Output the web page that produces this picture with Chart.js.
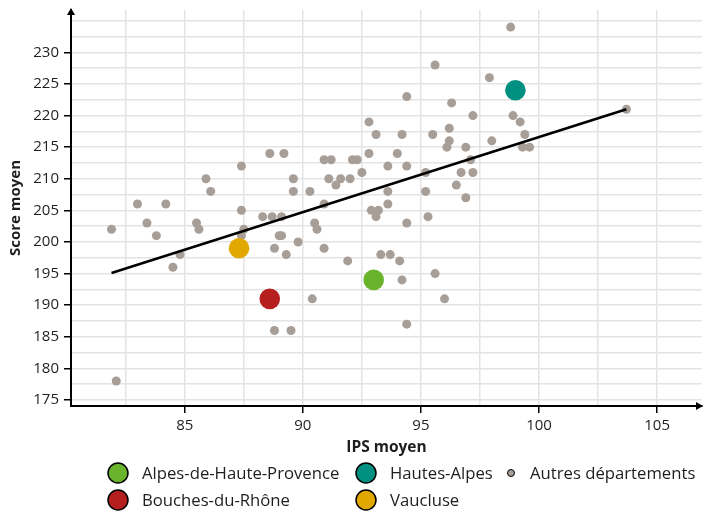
<!DOCTYPE html>
<html>
<head>
<meta charset="utf-8">
<script src="https://cdn.jsdelivr.net/npm/chart.js@4.4.1/dist/chart.umd.min.js"></script>
<style>
html,body{margin:0;padding:0;background:#fff}
</style>
</head>
<body>
<canvas id="chart" width="703" height="512"></canvas>
<script>
// autres départements : IPS moyen / score moyen
const ipsAutres = [81.9, 82.1, 83.0, 83.4, 83.8, 84.2, 84.5, 84.8, 85.5, 85.6, 85.9, 86.1,
  87.4, 87.4, 87.5, 87.4, 88.3, 88.7, 89.1, 88.8, 89.0, 89.1, 88.8, 89.5, 88.6, 89.2,
  89.6, 89.6, 90.3, 90.9, 91.2, 91.1, 91.6, 91.4, 92.0, 92.1, 92.3, 92.5, 92.8, 92.8,
  93.1, 93.6, 93.6, 94.0, 94.2, 94.4, 94.4, 95.2, 95.2, 95.5, 95.6, 96.1, 96.2, 96.2,
  96.3, 96.5, 96.7, 96.9, 96.9, 97.1, 97.2, 97.2, 97.9, 98.0, 98.8, 98.9, 99.2, 99.4,
  99.3, 99.6, 103.7, 90.9, 90.5, 90.6, 89.8, 89.3, 90.9, 91.9, 92.9, 93.2, 93.1, 93.6,
  94.4, 95.3, 93.3, 93.7, 94.1, 94.2, 95.6, 96.0, 94.4, 90.4];
const scoreAutres = [202, 178, 206, 203, 201, 206, 196, 198, 203, 202, 210, 208,
  205, 212, 202, 201, 204, 204, 204, 199, 201, 201, 186, 186, 214, 214,
  210, 208, 208, 213, 213, 210, 210, 209, 210, 213, 213, 211, 214, 219,
  217, 212, 208, 214, 217, 223, 212, 211, 208, 217, 228, 215, 216, 218,
  222, 209, 211, 215, 207, 213, 220, 211, 226, 216, 234, 220, 219, 217,
  215, 215, 221, 206, 203, 202, 200, 198, 199, 197, 205, 205, 204, 206,
  203, 204, 198, 198, 197, 194, 195, 191, 187, 191];

// départements mis en avant
const deptNames = ['Alpes-de-Haute-Provence', 'Bouches-du-Rhône', 'Hautes-Alpes', 'Vaucluse'];
const deptIps = [93.0, 88.6, 99.0, 87.3];
const deptScore = [194, 191, 224, 199];
const autresLabel = 'Autres départements';

// droite de régression
const trendIps = [81.9, 103.7];
const trendScore = [195.1, 221.0];

// graduations
const xTicks = [85, 90, 95, 100, 105];
const yTicks = [175, 180, 185, 190, 195, 200, 205, 210, 215, 220, 225, 230];

const deptColors = ['#6ab42d', '#b5201f', '#009081', '#e1a800'];
const grey = '#a89e98';
const FONT = "'Open Sans', sans-serif";

Chart.defaults.font.family = FONT;
Chart.defaults.color = '#1e1e1e';

const xMin = 80.185, xMax = 106.9, yMin = 174.05, yMax = 236.7;

function gridTicks(major, min, max) {
  let out = [];
  for (let v = major[0] - 10; v <= max; v += 2.5) {
    if (v >= min) out.push({value: v});
  }
  return out;
}
function isMajor(v, major) {
  return major.some(m => Math.abs(m - v) < 1e-6);
}

const arrowsAndLegend = {
  id: 'arrowsAndLegend',
  afterDraw(chart) {
    const c = chart.ctx, a = chart.chartArea;
    c.save();
    c.fillStyle = '#000';
    // flèche verticale
    c.beginPath();
    c.moveTo(a.left, a.top - 2);
    c.lineTo(a.left - 4, a.top + 5);
    c.lineTo(a.left + 4, a.top + 5);
    c.closePath();
    c.fill();
    // flèche horizontale
    c.beginPath();
    c.moveTo(a.right + 1, a.bottom);
    c.lineTo(a.right - 6, a.bottom - 4);
    c.lineTo(a.right - 6, a.bottom + 4);
    c.closePath();
    c.fill();

    // légende
    c.font = "16.7px " + FONT;
    c.textBaseline = 'middle';
    const colX = [118, 366, 511];
    const rowY = [473, 500];
    deptNames.forEach((name, i) => {
      const cx = colX[Math.floor(i / 2)], cy = rowY[i % 2];
      c.beginPath();
      c.arc(cx, cy, 10, 0, Math.PI * 2);
      c.fillStyle = deptColors[i];
      c.fill();
      c.lineWidth = 1.5;
      c.strokeStyle = '#000';
      c.stroke();
      c.fillStyle = '#1e1e1e';
      c.fillText(name, cx + 24, cy + 1);
    });
    c.beginPath();
    c.arc(colX[2], rowY[0], 3.5, 0, Math.PI * 2);
    c.fillStyle = grey;
    c.fill();
    c.lineWidth = 1;
    c.strokeStyle = '#000';
    c.stroke();
    c.fillStyle = '#1e1e1e';
    c.fillText(autresLabel, colX[2] + 19, rowY[0] + 1);
    c.restore();
  }
};

const ctx = document.getElementById('chart');

new Chart(ctx, {
  type: 'scatter',
  data: {
    datasets: [
      {
        label: autresLabel,
        data: ipsAutres.map((x, i) => ({x: x, y: scoreAutres[i]})),
        backgroundColor: grey,
        borderWidth: 0,
        pointRadius: 4.5,
        order: 3
      },
      {
        label: 'Tendance',
        data: trendIps.map((x, i) => ({x: x, y: trendScore[i]})),
        showLine: true,
        borderColor: '#000',
        borderWidth: 2.5,
        pointRadius: 0,
        order: 2
      }
    ].concat(deptNames.map((n, i) => ({
      label: n,
      data: [{x: deptIps[i], y: deptScore[i]}],
      backgroundColor: deptColors[i],
      borderWidth: 0,
      pointRadius: 10.3,
      order: 1
    })))
  },
  options: {
    responsive: false,
    animation: false,
    layout: {autoPadding: false, padding: {top: 10, right: 1, left: 0, bottom: 52}},
    plugins: {legend: {display: false}, tooltip: {enabled: false}},
    scales: {
      x: {
        type: 'linear',
        min: xMin,
        max: xMax,
        afterBuildTicks: s => { s.ticks = gridTicks(xTicks, xMin, xMax); },
        afterFit: s => { s.height = 54; s.paddingLeft = 0; s.paddingRight = 0; },
        ticks: {
          autoSkip: false,
          maxRotation: 0,
          padding: 4,
          font: {size: 15},
          callback: v => isMajor(v, xTicks) ? v : ''
        },
        grid: {
          color: '#e4e4e4',
          lineWidth: 1.5,
          tickLength: 7,
          tickWidth: 1.5,
          tickColor: c => (c.tick && isMajor(c.tick.value, xTicks)) ? '#000' : 'rgba(0,0,0,0)'
        },
        border: {color: '#000', width: 2},
        title: {display: true, text: 'IPS moyen', font: {size: 15.5, weight: 'bold'}, padding: {top: 0, bottom: 3}}
      },
      y: {
        type: 'linear',
        min: yMin,
        max: yMax,
        afterBuildTicks: s => { s.ticks = gridTicks(yTicks, yMin, yMax); },
        afterFit: s => { s.width = 71; s.paddingTop = 0; s.paddingBottom = 0; },
        ticks: {
          autoSkip: false,
          padding: 5,
          font: {size: 15},
          callback: v => isMajor(v, yTicks) ? v : ''
        },
        grid: {
          color: '#e4e4e4',
          lineWidth: 1.5,
          tickLength: 7,
          tickWidth: 1.5,
          tickColor: c => (c.tick && isMajor(c.tick.value, yTicks)) ? '#000' : 'rgba(0,0,0,0)'
        },
        border: {color: '#000', width: 2},
        title: {display: true, text: 'Score moyen', font: {size: 15, weight: 'bold'}, padding: {top: 7, bottom: 0}}
      }
    }
  },
  plugins: [arrowsAndLegend]
});
</script>
</body>
</html>
